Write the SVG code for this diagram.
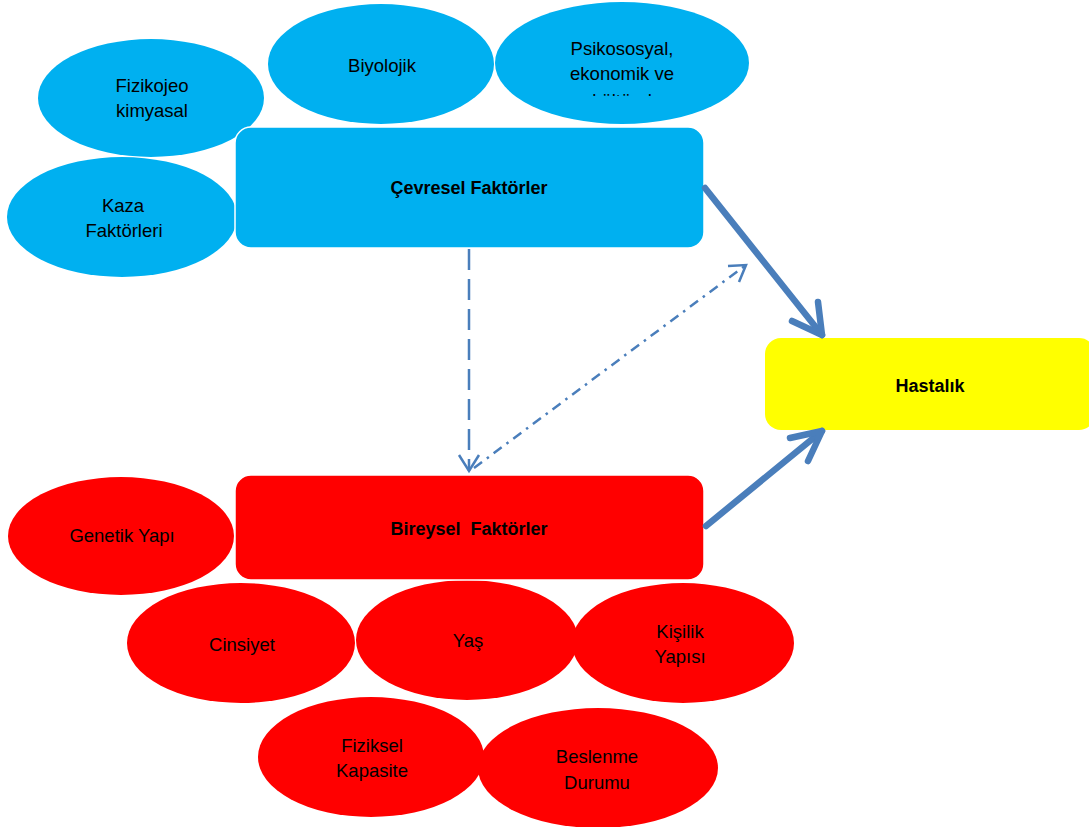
<svg xmlns="http://www.w3.org/2000/svg" width="1089" height="827" viewBox="0 0 1089 827">
  <style>
    .env { fill: #00B0F0; }
    .ind { fill: #FF0000; }
    .box { stroke: #FFFFFF; stroke-width: 1.5; }
    .lbl { font-family: "Liberation Sans", Arial, sans-serif; font-size: 18.5px; fill: #000; text-anchor: middle; }
    .hdr { font-family: "Liberation Sans", Arial, sans-serif; font-size: 18px; font-weight: bold; fill: #000; text-anchor: middle; }
    .thick { fill: none; stroke: #4A7EBB; stroke-width: 6.5; stroke-linecap: round; stroke-linejoin: round; }
    .thin { fill: none; stroke: #4A7EBB; stroke-width: 2.5; }
  </style>
  <defs>
    <clipPath id="clip-psiko">
      <rect x="490" y="0" width="270" height="96"/>
    </clipPath>
  </defs>

  <rect width="1089" height="827" fill="#FFFFFF"/>

  <!-- environmental factor bubbles -->
  <g id="fizikojeo">
    <ellipse class="env" cx="151" cy="98" rx="113" ry="59"/>
    <text class="lbl" x="152" y="92">Fizikojeo</text>
    <text class="lbl" x="152" y="117">kimyasal</text>
  </g>
  <g id="kaza">
    <ellipse class="env" cx="122" cy="217" rx="115" ry="60"/>
    <text class="lbl" x="123" y="212">Kaza</text>
    <text class="lbl" x="124" y="237">Faktörleri</text>
  </g>
  <g id="biyolojik">
    <ellipse class="env" cx="381" cy="64" rx="113" ry="60"/>
    <text class="lbl" x="382" y="72">Biyolojik</text>
  </g>
  <g id="psikososyal">
    <ellipse class="env" cx="622" cy="63" rx="127" ry="61"/>
    <text class="lbl" x="622" y="55">Psikososyal,</text>
    <text class="lbl" x="622" y="80">ekonomik ve</text>
    <text class="lbl" x="622" y="107" clip-path="url(#clip-psiko)">kültürel</text>
  </g>

  <!-- main factor boxes -->
  <g id="cevresel">
    <rect class="env box" x="235" y="127" width="469" height="121" rx="16"/>
    <text class="hdr" x="469" y="194">Çevresel Faktörler</text>
  </g>
  <g id="hastalik">
    <rect x="765" y="338" width="330" height="92" rx="16" fill="#FFFF00"/>
    <text class="hdr" x="930" y="392">Hastalık</text>
  </g>

  <!-- individual factor bubbles -->
  <g id="genetik">
    <ellipse class="ind" cx="121" cy="536" rx="113" ry="59"/>
    <text class="lbl" x="122" y="542">Genetik Yapı</text>
  </g>
  <g id="cinsiyet">
    <ellipse class="ind" cx="241" cy="643" rx="114" ry="60"/>
    <text class="lbl" x="242" y="651">Cinsiyet</text>
  </g>
  <g id="yas">
    <ellipse class="ind" cx="467" cy="640" rx="111" ry="60"/>
    <text class="lbl" x="468" y="647">Yaş</text>
  </g>
  <g id="kisilik">
    <ellipse class="ind" cx="683" cy="643" rx="111" ry="60"/>
    <text class="lbl" x="680" y="638">Kişilik</text>
    <text class="lbl" x="680" y="663">Yapısı</text>
  </g>
  <g id="fiziksel">
    <ellipse class="ind" cx="371" cy="757" rx="113" ry="60"/>
    <text class="lbl" x="372" y="752">Fiziksel</text>
    <text class="lbl" x="372" y="777">Kapasite</text>
  </g>
  <g id="beslenme">
    <ellipse class="ind" cx="598" cy="768" rx="120" ry="60"/>
    <text class="lbl" x="597" y="763">Beslenme</text>
    <text class="lbl" x="597" y="789">Durumu</text>
  </g>

  <g id="bireysel">
    <rect class="ind box" x="235" y="475" width="469" height="105" rx="16"/>
    <text class="hdr" x="469" y="535" xml:space="preserve">Bireysel  Faktörler</text>
  </g>

  <!-- connectors -->
  <g id="connectors">
    <!-- environment -> disease -->
    <path class="thick" d="M705,188 L822,335"/>
    <path class="thick" d="M792,321 L822,335 L818,302"/>
    <!-- individual -> disease -->
    <path class="thick" d="M706,526 L822,431"/>
    <path class="thick" d="M790,438 L822,431 L808,461"/>
    <!-- environment affects individual -->
    <path class="thin" d="M469,249 L469,471" stroke-dasharray="21 9"/>
    <path class="thin" d="M459,455 L469,471 L479,455"/>
    <!-- mutual interaction -->
    <path class="thin" d="M474,468 L746,265" stroke-dasharray="10 6 2.5 6"/>
    <path class="thin" d="M728,266 L746,265 L739,282"/>
  </g>
</svg>
